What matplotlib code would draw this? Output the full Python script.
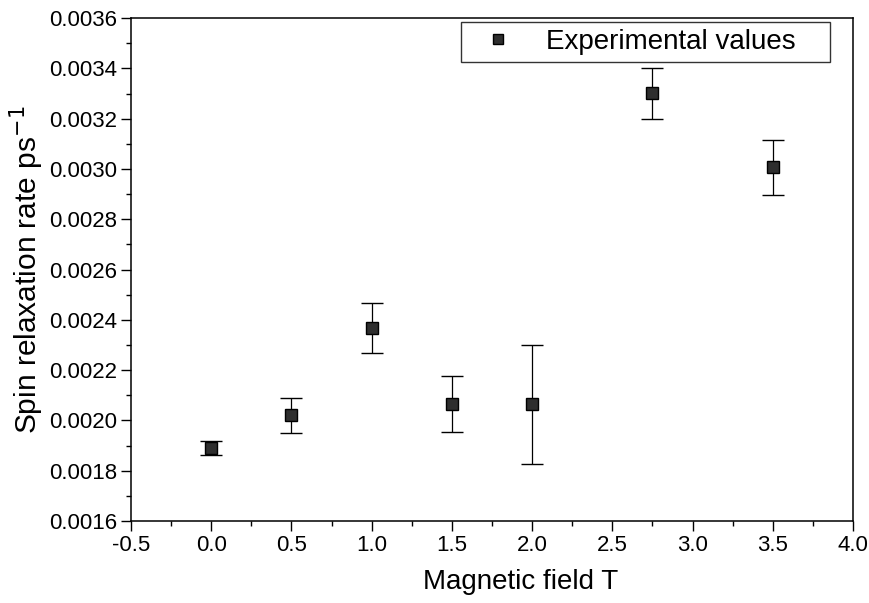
import matplotlib
matplotlib.use("Agg")
import matplotlib.pyplot as plt
from matplotlib.lines import Line2D
from matplotlib.ticker import MultipleLocator, FormatStrFormatter

plt.rcParams['font.family'] = ['Liberation Sans', 'DejaVu Sans']

field = [0.0, 0.5, 1.0, 1.5, 2.0, 2.75, 3.5]
rate = [0.00189, 0.00202, 0.002367, 0.002065, 0.002065, 0.003302, 0.003008]
err_low = [0.000028, 0.00007, 0.0001, 0.00011, 0.000238, 0.000104, 0.000112]
err_high = [0.000028, 0.00007, 0.0001, 0.00011, 0.000235, 0.0001, 0.000107]

x_ticks = [-0.5, 0.0, 0.5, 1.0, 1.5, 2.0, 2.5, 3.0, 3.5, 4.0]

fig = plt.figure(figsize=(8.69, 6.03), dpi=100)
ax = fig.add_axes([0.1507, 0.136, 0.8309, 0.834])

ax.errorbar(field, rate, yerr=[err_low, err_high], fmt='s', color='black',
            markerfacecolor='#2e2e2e', markeredgecolor='black', markersize=8.5,
            ecolor='black', elinewidth=0.9, capsize=8, capthick=1.0)

ax.set_xlim(-0.5, 4.0)
ax.set_ylim(0.0016, 0.0036)
ax.set_xticks(x_ticks)
ax.xaxis.set_major_formatter(FormatStrFormatter('%.1f'))
ax.xaxis.set_minor_locator(MultipleLocator(0.25))
ax.yaxis.set_major_locator(MultipleLocator(0.0002))
ax.yaxis.set_minor_locator(MultipleLocator(0.0001))
ax.yaxis.set_major_formatter(FormatStrFormatter('%.4f'))

ax.tick_params(axis='both', which='major', direction='out', length=7, width=1,
               labelsize=16, pad=3, top=False, right=False)
ax.tick_params(axis='both', which='minor', direction='out', length=3.5, width=1,
               top=False, right=False)
for s in ax.spines.values():
    s.set_linewidth(1.1)

ax.set_xlabel('Magnetic field T', fontsize=20)
ax.xaxis.set_label_coords(0.54, -0.095)
ax.set_ylabel('Spin relaxation rate ps$^{-1}$', fontsize=21.5, labelpad=2)

handle = Line2D([], [], marker='s', linestyle='none', markersize=7,
                markerfacecolor='#2e2e2e', markeredgecolor='black')
leg = ax.legend([handle], ['Experimental values'], loc='upper left',
                bbox_to_anchor=(0.457, 0.912, 0.511, 0.08), mode='expand',
                fontsize=20, frameon=True, fancybox=False, edgecolor='black',
                handletextpad=0.6, borderpad=0.25, borderaxespad=0,
                handlelength=2.2)
leg.get_frame().set_linewidth(1.0)

fig.savefig('out.png', dpi=100)
